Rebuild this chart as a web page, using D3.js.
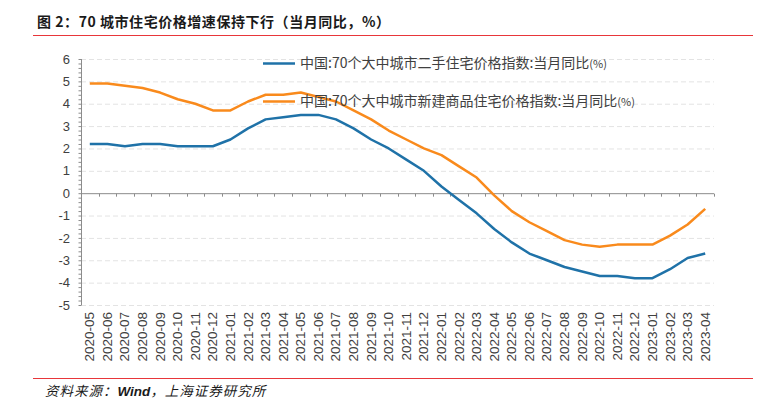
<!DOCTYPE html>
<html><head><meta charset="utf-8">
<script src="https://cdn.jsdelivr.net/npm/d3@7"></script>
<style>
html,body{margin:0;padding:0;background:#fff;}
svg{display:block;}
</style></head>
<body>
<svg id="c" width="768" height="399"></svg>
<script>
const months = ["2020-05","2020-06","2020-07","2020-08","2020-09","2020-10","2020-11","2020-12",
"2021-01","2021-02","2021-03","2021-04","2021-05","2021-06","2021-07","2021-08","2021-09","2021-10","2021-11","2021-12",
"2022-01","2022-02","2022-03","2022-04","2022-05","2022-06","2022-07","2022-08","2022-09","2022-10","2022-11","2022-12",
"2023-01","2023-02","2023-03","2023-04"];
const secondHand = [2.2,2.2,2.1,2.2,2.2,2.1,2.1,2.1,
2.4,2.9,3.3,3.4,3.5,3.5,3.3,2.9,2.4,2.0,1.5,1.0,
0.3,-0.3,-0.9,-1.6,-2.2,-2.7,-3.0,-3.3,-3.5,-3.7,-3.7,-3.8,
-3.8,-3.4,-2.9,-2.7];
const newBuild = [4.9,4.9,4.8,4.7,4.5,4.2,4.0,3.7,
3.7,4.1,4.4,4.4,4.5,4.3,4.1,3.7,3.3,2.8,2.4,2.0,
1.7,1.2,0.7,-0.1,-0.8,-1.3,-1.7,-2.1,-2.3,-2.4,-2.3,-2.3,
-2.3,-1.9,-1.4,-0.7];
const yTicks = [6,5,4,3,2,1,0,-1,-2,-3,-4,-5];
const seriesNames = ["中国:70个大中城市二手住宅价格指数:当月同比","中国:70个大中城市新建商品住宅价格指数:当月同比"];
const seriesUnit = "(%)";
const seriesColors = ["#1f72a8","#f98a1c"];
const titleText = "图 2：70 城市住宅价格增速保持下行（当月同比，%）";
const sourceParts = ["资料来源：","Wind","，上海证券研究所"];

const svg = d3.select("#c");
const axisColor = "#8c8c8c";
const textColor = "#404040";

// title & rules
svg.append("text").attr("x",37).attr("y",27)
  .attr("font-family","'Noto Sans CJK SC',sans-serif").attr("font-weight","bold")
  .attr("font-size",14).attr("letter-spacing",0.55).attr("fill","#1a1a1a").text(titleText);
svg.append("line").attr("x1",33).attr("x2",753).attr("y1",35.5).attr("y2",35.5)
  .attr("stroke","#e8363a").attr("stroke-width",1.2);
svg.append("line").attr("x1",33).attr("x2",753).attr("y1",378.5).attr("y2",378.5)
  .attr("stroke","#e8363a").attr("stroke-width",1.2);
const src = svg.append("text").attr("x",45).attr("y",396)
  .attr("font-family","'Noto Sans CJK SC',sans-serif").attr("font-style","italic")
  .attr("font-size",13.5).attr("fill","#1a1a1a").attr("letter-spacing",1);
sourceParts.forEach((p,i)=>{
  const t = src.append("tspan").text(p);
  if(i===1) t.attr("font-weight","bold").attr("font-family","'Liberation Sans',Arial,sans-serif").attr("letter-spacing",0);
});

const x = d3.scaleBand().domain(months).range([81,714]).padding(0);
const y = d3.scaleLinear().domain([-5,6]).range([305,59]);

// grid
svg.append("g").selectAll("line").data(yTicks.filter(d=>d!==0)).join("line")
  .attr("x1",81).attr("x2",714).attr("y1",d=>y(d)+0.5).attr("y2",d=>y(d)+0.5)
  .attr("stroke","#e3e3e3").attr("stroke-width",1).attr("stroke-dasharray","5,3");

// y axis with minor ticks
const minor = d3.range(-50,61,2).map(v=>v/10);
const yAxis = d3.axisLeft(y).tickValues(minor).tickSize(3).tickFormat("");
const gy = svg.append("g").attr("transform","translate(81.5,0)").call(yAxis);
gy.selectAll("path,line").attr("stroke",axisColor);
gy.select(".domain").attr("d",`M0,${y(6)}V${y(-5)}`);
svg.append("g").selectAll("text").data(yTicks).join("text")
  .attr("x",70).attr("y",d=>y(d)).attr("dy","0.36em").attr("text-anchor","end")
  .attr("font-family","'Liberation Sans',Arial,sans-serif").attr("font-size",13)
  .attr("fill",textColor).text(d=>d);

// x axis at zero
const gx = svg.append("g").attr("transform",`translate(0,${y(0)+0.5})`);
gx.append("line").attr("x1",81).attr("x2",714).attr("stroke",axisColor).attr("stroke-width",1);
const bounds = months.map(m=>x(m)).concat([x(months[months.length-1])+x.bandwidth()]);
gx.selectAll("line.t").data(bounds.slice(1)).join("line").attr("class","t")
  .attr("x1",d=>Math.round(d)+0.5).attr("x2",d=>Math.round(d)+0.5).attr("y1",0).attr("y2",3)
  .attr("stroke",axisColor);

// x labels
svg.append("g").selectAll("text").data(months).join("text")
  .attr("transform",d=>`translate(${x(d)+x.bandwidth()/2+4.5},312) rotate(-90)`)
  .attr("text-anchor","end")
  .attr("font-family","'Liberation Sans',Arial,sans-serif").attr("font-size",13.5)
  .attr("fill",textColor).text(d=>d);

// lines
const line = d3.line().x((d,i)=>x(months[i])+x.bandwidth()/2).y(d=>y(d));
[secondHand,newBuild].forEach((s,k)=>{
  svg.append("path").datum(s).attr("d",line).attr("fill","none")
    .attr("stroke",seriesColors[k]).attr("stroke-width",2.5).attr("stroke-linejoin","round");
});

// legend
const legY = [63.5,101.5];
seriesNames.forEach((n,k)=>{
  svg.append("line").attr("x1",263).attr("x2",295).attr("y1",legY[k]).attr("y2",legY[k])
    .attr("stroke",seriesColors[k]).attr("stroke-width",2.5);
  const t = svg.append("text").attr("x",300).attr("y",legY[k]).attr("dy","0.35em")
    .attr("font-family","'Noto Sans CJK SC',sans-serif").attr("font-size",14)
    .attr("fill",textColor);
  t.append("tspan").text(n);
  t.append("tspan").attr("font-size",11).text(seriesUnit);
});
</script>
</body></html>
